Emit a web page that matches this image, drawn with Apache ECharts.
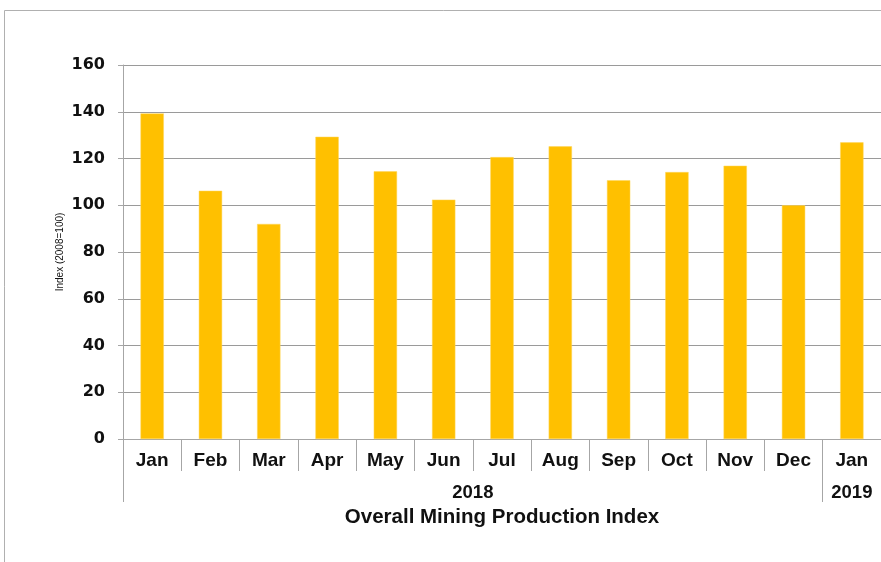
<!DOCTYPE html>
<html>
<head>
<meta charset="utf-8">
<script src="https://cdn.jsdelivr.net/npm/echarts@6/dist/echarts.min.js"></script>
<style>
html,body{margin:0;padding:0;background:#fff;}
#chart{width:881px;height:562px;}
</style>
</head>
<body>
<div id="chart"></div>
<script>
// ---- data ----
var months = ['Jan','Feb','Mar','Apr','May','Jun','Jul','Aug','Sep','Oct','Nov','Dec','Jan'];
var monthYears = ['2018','2018','2018','2018','2018','2018','2018','2018','2018','2018','2018','2018','2019'];
var indexValues = [139.3, 106.2, 92.0, 129.3, 114.5, 102.4, 120.6, 125.2, 110.7, 114.2, 116.9, 100.0, 126.9];
var yMin = 0, yMax = 160, yStep = 20;
var yAxisTitle = 'Index (2008=100)';
var xAxisTitle = 'Overall Mining Production Index';

// build year groups from monthYears
var groupBounds = [0];
var groupCenters = [];
var groupNames = [];
(function(){
  var start = 0;
  for (var i = 1; i <= monthYears.length; i++) {
    if (i === monthYears.length || monthYears[i] !== monthYears[start]) {
      groupBounds.push(i);
      groupCenters.push((start + i) / 2);
      groupNames.push(monthYears[start]);
      start = i;
    }
  }
})();

var FONT = '"Liberation Sans", Arial, sans-serif';
var WIDEFONT = '"DejaVu Sans", "Liberation Sans", sans-serif';
var gray = '#a6a6a6';

var chart = echarts.init(document.getElementById('chart'));
chart.setOption({
  animation: false,
  backgroundColor: '#fff',
  graphic: [{
    type: 'rect',
    shape: {x: 4.5, y: 10.5, width: 900, height: 600},
    style: {fill: 'none', stroke: '#b0b0b0', lineWidth: 1},
    silent: true, z: -1
  }],
  grid: {left: 123, top: 65, width: 759, height: 374, containLabel: false},
  xAxis: [{
    type: 'category',
    data: months,
    position: 'bottom',
    axisLine: {show: true, lineStyle: {color: gray, width: 1}},
    axisTick: {show: true, interval: 0, alignWithLabel: false, length: 32, lineStyle: {color: gray}},
    axisLabel: {interval: 0, margin: 12, fontFamily: FONT, fontWeight: 'bold', fontSize: 19, color: '#111'},
    splitLine: {show: false}
  }, {
    type: 'value',
    position: 'bottom',
    min: 0,
    max: months.length,
    axisLine: {show: false},
    axisTick: {show: true, customValues: groupBounds, length: 63, lineStyle: {color: gray}},
    axisLabel: {
      show: true, customValues: groupCenters, margin: 44,
      fontFamily: FONT, fontWeight: 'bold', fontSize: 18.5, color: '#111',
      formatter: function (v) {
        var k = groupCenters.indexOf(v);
        return k >= 0 ? groupNames[k] : '';
      }
    },
    splitLine: {show: false},
    name: xAxisTitle,
    nameLocation: 'middle',
    nameGap: 68,
    nameMoveOverlap: false,
    nameTextStyle: {fontFamily: FONT, fontWeight: 'bold', fontSize: 20.5, color: '#111'}
  }],
  yAxis: {
    type: 'value',
    min: yMin, max: yMax, interval: yStep,
    axisLine: {show: true, lineStyle: {color: gray, width: 1}},
    axisTick: {show: true, length: 5, lineStyle: {color: gray}},
    axisLabel: {margin: 18, fontFamily: WIDEFONT, fontWeight: 'bold', fontSize: 16, color: '#111'},
    splitLine: {show: true, lineStyle: {color: '#9a9a9a', width: 1}},
    name: yAxisTitle,
    nameLocation: 'middle',
    nameGap: 58,
    nameMoveOverlap: false,
    nameRotate: 90,
    nameTextStyle: {fontFamily: FONT, fontSize: 10, color: '#111'}
  },
  series: [{
    type: 'bar',
    data: indexValues,
    xAxisIndex: 0,
    barWidth: '40%',
    itemStyle: {color: '#FFC000', borderColor: '#FFD75A', borderWidth: 0.5}
  }]
});
</script>
</body>
</html>
